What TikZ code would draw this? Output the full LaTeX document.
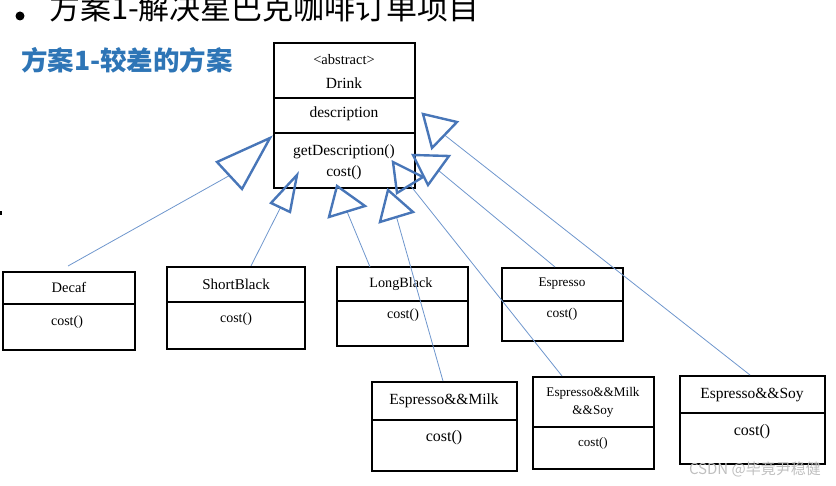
\documentclass[tikz,border=0pt]{standalone}
\usepackage{fontspec}
\usetikzlibrary{calc}
\setmainfont{Liberation Serif}
\newfontfamily\cjk{Noto Sans CJK SC}
\definecolor{headblue}{RGB}{46,117,182}
\definecolor{tric}{RGB}{72,118,184}
\definecolor{linec}{RGB}{110,150,205}
\begin{document}
\begin{tikzpicture}[x=1pt,y=-1pt,
  box/.style={draw=black, line width=1.9pt, inner sep=0pt, outer sep=0pt},
  divline/.style={draw=black, line width=1.9pt},
  lbl/.style={inner sep=0pt, outer sep=0pt},
  inh/.style={draw=linec, line width=0.8pt},
  tri/.style={draw=tric, line width=2.4pt, line join=miter}]
\useasboundingbox (0,0) rectangle (836,486);
\clip (0,0) rectangle (836,486);

% cut-off title line
\node[circle, fill=black, inner sep=0pt, minimum size=9pt] (bullet) at (20,16) {};
\node[lbl, anchor=base west, font=\cjk\fontsize{31}{36}\selectfont] (title) at (49,20) {方案1-解决星巴克咖啡订单项目};
\fill (0,211) rectangle (2,215);

% heading
\node[lbl, anchor=west, text=headblue, font=\cjk\bfseries\fontsize{26.5}{31}\selectfont] (head) at (21,60) {方案1-较差的方案};

% Drink
\node[box, minimum width=141pt, minimum height=145pt] (drink) at (344.5,115.5) {};
\draw[divline] (drink.west |- 0,98) -- (drink.east |- 0,98);
\draw[divline] (drink.west |- 0,133) -- (drink.east |- 0,133);
\node[lbl, font=\fontsize{14.5}{16}\selectfont] (abs) at (344,60) {<abstract>};
\node[lbl, font=\fontsize{15.5}{17}\selectfont] (drinkT) at (344,83) {Drink};
\node[lbl, font=\fontsize{15.5}{17}\selectfont] (desc) at (344,114) {description};
\node[lbl, font=\fontsize{15.5}{17}\selectfont] (getd) at (344,152) {getDescription()};
\node[lbl, font=\fontsize{15.5}{17}\selectfont] (dcost) at (344,173) {cost()};

% Decaf
\node[box, minimum width=132pt, minimum height=78pt] (decaf) at (69,311) {};
\draw[divline] (decaf.west |- 0,304) -- (decaf.east |- 0,304);
\node[lbl, font=\fontsize{14.5}{17}\selectfont] (decafT) at (69,287) {Decaf};
\node[lbl, font=\fontsize{14}{17}\selectfont] (decafC) at (67,322) {cost()};

% ShortBlack
\node[box, minimum width=138pt, minimum height=82pt] (sb) at (236,308) {};
\draw[divline] (sb.west |- 0,302) -- (sb.east |- 0,302);
\node[lbl, font=\fontsize{15}{17}\selectfont] (sbT) at (236,284) {ShortBlack};
\node[lbl, font=\fontsize{14}{17}\selectfont] (sbC) at (236,319) {cost()};

% LongBlack
\node[box, minimum width=131pt, minimum height=79pt] (lb) at (402.5,306.5) {};
\draw[divline] (lb.west |- 0,301) -- (lb.east |- 0,301);
\node[lbl, font=\fontsize{14.2}{17}\selectfont] (lbT) at (401,284) {LongBlack};
\node[lbl, font=\fontsize{14}{17}\selectfont] (lbC) at (403,315) {cost()};

% Espresso
\node[box, minimum width=121pt, minimum height=73pt] (es) at (562.5,304.5) {};
\draw[divline] (es.west |- 0,301) -- (es.east |- 0,301);
\node[lbl, font=\fontsize{13.2}{16}\selectfont] (esT) at (562,284) {Espresso};
\node[lbl, font=\fontsize{13.5}{16}\selectfont] (esC) at (562,314) {cost()};

% Espresso&&Milk
\node[box, minimum width=145pt, minimum height=89pt] (em) at (444.5,426.5) {};
\draw[divline] (em.west |- 0,420) -- (em.east |- 0,420);
\node[lbl, font=\fontsize{15.5}{18}\selectfont] (emT) at (444,401) {Espresso\&\&Milk};
\node[lbl, font=\fontsize{16}{18}\selectfont] (emC) at (444,438) {cost()};

% Espresso&&Milk&&Soy
\node[box, minimum width=121pt, minimum height=92pt] (ems) at (593.5,423) {};
\draw[divline] (ems.west |- 0,427) -- (ems.east |- 0,427);
\node[lbl, font=\fontsize{13.2}{16}\selectfont] (emsT1) at (593,393) {Espresso\&\&Milk};
\node[lbl, font=\fontsize{13.2}{16}\selectfont] (emsT2) at (593,412) {\&\&Soy};
\node[lbl, font=\fontsize{13}{16}\selectfont] (emsC) at (593,443) {cost()};

% Espresso&&Soy
\node[box, minimum width=145pt, minimum height=88pt] (esy) at (752.5,420) {};
\draw[divline] (esy.west |- 0,413) -- (esy.east |- 0,413);
\node[lbl, font=\fontsize{15.5}{18}\selectfont] (esyT) at (752,395) {Espresso\&\&Soy};
\node[lbl, font=\fontsize{16}{18}\selectfont] (esyC) at (752,432) {cost()};

% connector start points
\coordinate (s1) at (68,266);
\coordinate (s2) at (251,266);
\coordinate (s3) at (370,267);
\coordinate (s4) at (443,381);
\coordinate (s5) at (562,376);
\coordinate (s6) at (555,267);
\coordinate (s7) at (750,375);

% triangle heads: tip p, base a b, base mid m
\coordinate (p1) at (270,138); \coordinate (a1) at (217,162); \coordinate (b1) at (242,189);
\coordinate (p2) at (297,175); \coordinate (a2) at (271,203); \coordinate (b2) at (290,212);
\coordinate (p3) at (337,186); \coordinate (a3) at (329,217); \coordinate (b3) at (365,206);
\coordinate (p4) at (388,190); \coordinate (a4) at (380,222); \coordinate (b4) at (413,212);
\coordinate (p5) at (393,162); \coordinate (a5) at (397,193); \coordinate (b5) at (423,177);
\coordinate (p6) at (413,155); \coordinate (a6) at (428,185); \coordinate (b6) at (449,156);
\coordinate (p7) at (423,114); \coordinate (a7) at (432,148); \coordinate (b7) at (457,122);
\foreach \i in {1,...,7} {
  \coordinate (m\i) at ($(a\i)!0.5!(b\i)$);
  \draw[inh] (s\i) -- (m\i);
  \draw[tri] (a\i) -- (p\i) -- (b\i) -- cycle;
}

% watermark
\node[lbl, anchor=west, text=black!25, font=\cjk\fontsize{15}{17}\selectfont] (wm) at (689,469) {CSDN @毕竟尹稳健};
\end{tikzpicture}
\end{document}
